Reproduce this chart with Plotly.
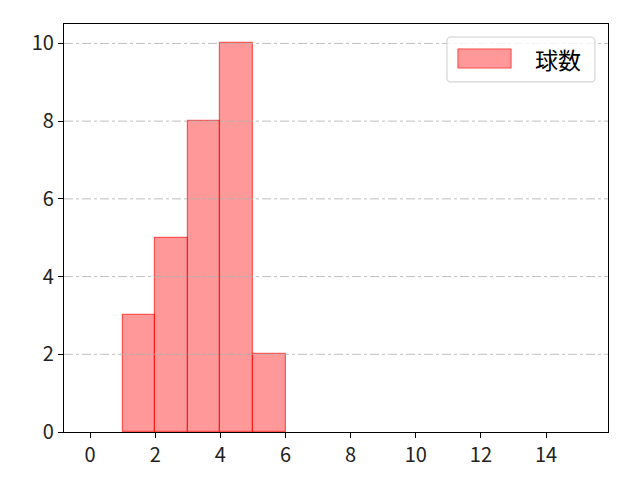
import plotly.graph_objects as go

bin_edges = [1, 2, 3, 4, 5, 6]
counts = [3, 5, 8, 10, 2]
series_name = "球数"
x_ticks = [0, 2, 4, 6, 8, 10, 12, 14]
y_ticks = [0, 2, 4, 6, 8, 10]

bar_fill = "rgba(255,0,0,0.4)"
bar_edge = "rgba(255,0,0,0.6)"

centers = [(bin_edges[i] + bin_edges[i + 1]) / 2 for i in range(len(counts))]
widths = [bin_edges[i + 1] - bin_edges[i] for i in range(len(counts))]

fig = go.Figure()
fig.add_trace(go.Bar(
    x=centers, y=counts, width=widths, name=series_name,
    marker=dict(color=bar_fill, line=dict(color=bar_edge, width=1.2)),
    showlegend=False,
))

# grid lines drawn above bars (like the reference)
for yv in y_ticks[1:]:
    fig.add_shape(type="line", xref="paper", yref="y", x0=0, x1=1, y0=yv, y1=yv,
                  line=dict(color="#b0b0b0", width=0.8, dash="dashdot"), layer="above")

# legend box (matplotlib-style, rounded frame, wide swatch)
x0, x1, y0, y1 = 0.704, 0.976, 0.858, 0.968
rx, ry = 0.0074, 0.0098
box_path = (f"M{x0+rx},{y1} L{x1-rx},{y1} Q{x1},{y1} {x1},{y1-ry} "
            f"L{x1},{y0+ry} Q{x1},{y0} {x1-rx},{y0} L{x0+rx},{y0} "
            f"Q{x0},{y0} {x0},{y0+ry} L{x0},{y1-ry} Q{x0},{y1} {x0+rx},{y1} Z")
fig.add_shape(type="path", path=box_path, xref="paper", yref="paper",
              fillcolor="rgba(255,255,255,0.8)", line=dict(color="#cccccc", width=1), layer="above")
fig.add_shape(type="rect", xref="paper", yref="paper", x0=0.724, x1=0.822, y0=0.892, y1=0.939,
              fillcolor=bar_fill, line=dict(color=bar_edge, width=1), layer="above")

font = "Noto Sans CJK JP, DejaVu Sans, sans-serif"
fig.add_annotation(xref="paper", yref="paper", x=0.862, y=0.914, xanchor="left", yanchor="middle",
                   text=series_name, showarrow=False,
                   font=dict(size=23, family=font, color="black"))

axis_common = dict(showline=True, linecolor="black", linewidth=1.2, mirror=True,
                   ticks="outside", ticklen=5, tickwidth=1.2, tickcolor="black",
                   showgrid=False, zeroline=False,
                   tickfont=dict(size=20, color="#222222", family=font))
fig.update_layout(
    width=640, height=480,
    margin=dict(l=56, r=40, t=16, b=56),
    paper_bgcolor="white", plot_bgcolor="white",
    xaxis=dict(range=[-0.8, 15.9], tickvals=x_ticks, **axis_common),
    yaxis=dict(range=[0, 10.5], tickvals=y_ticks, **axis_common),
    showlegend=False,
    bargap=0,
)
fig.write_html("out.html")
